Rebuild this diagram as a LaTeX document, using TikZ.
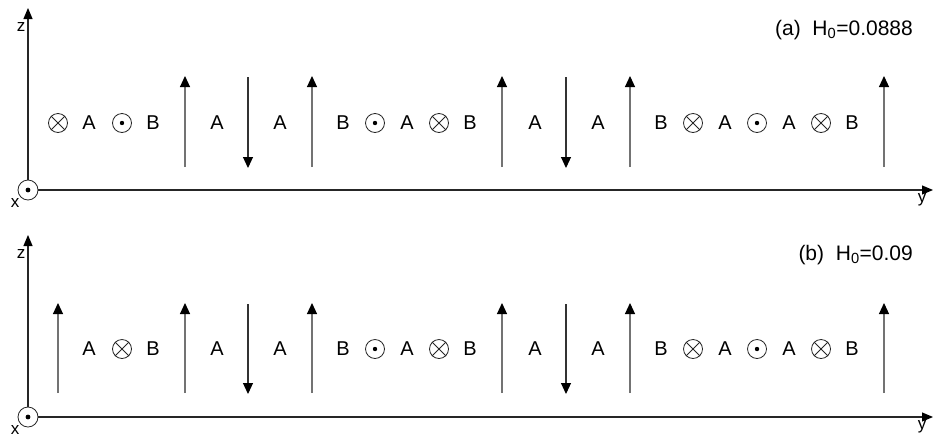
\documentclass[tikz,border=0pt]{standalone}
\usepackage{fontspec}
\setmainfont{Liberation Sans}
\usetikzlibrary{arrows.meta}
\tikzset{
  axisline/.style={draw=black!85, line width=1.1pt, -{Triangle[length=11pt,width=9pt,color=black]}},
  uparrow/.style={draw=black!55, line width=1.1pt, -{Triangle[length=11pt,width=10pt,color=black]}},
  downarrow/.style={draw=black!80, line width=1.1pt, -{Triangle[length=11pt,width=10pt,color=black]}},
  lbl/.style={font=\fontsize{20}{20}\selectfont, inner sep=0pt},
  axlbl/.style={font=\fontsize{17}{17}\selectfont, inner sep=0pt},
  ttl/.style={font=\fontsize{21}{21}\selectfont, inner sep=0pt, anchor=east},
  sym/.style={circle, draw=black!85, line width=0.8pt, minimum size=19pt, inner sep=0pt},
}
\newcommand{\intopage}[2]{% name, position
  \node[sym] (#1) at (#2) {};
  \draw[black!85, line width=0.8pt] (#1.45) -- (#1.225) (#1.135) -- (#1.315);}
\newcommand{\outofpage}[2]{%
  \node[sym] (#1) at (#2) {};
  \fill[black] (#1.center) circle (2.2pt);}
\begin{document}
\begin{tikzpicture}[x=1pt,y=-1pt]
\useasboundingbox (0,0) rectangle (933,437);
% ---------------- panel (a)
\coordinate (a0) at (28,190);
\coordinate (az) at (28,8);
\coordinate (ay) at (933,190);
\draw[axisline] (a0) -- (az);
\draw[axisline] (a0) -- (ay);
\node[sym, minimum size=20pt, fill=white] (aorig) at (a0) {};
\fill (aorig.center) circle (2.4pt);
\node[axlbl] (alx) at (15,203) {x};
\node[axlbl] (alz) at (21,27) {z};
\node[axlbl] (aly) at (922,200) {y};
\node[ttl] (atitle) at (913,30) {(a)\ \ H\textsubscript{0}=0.0888};
\intopage{ac1}{58,123}
\outofpage{ac2}{122,123}
\outofpage{ac3}{375,123}
\intopage{ac4}{439,123}
\intopage{ac5}{693,123}
\outofpage{ac6}{757,123}
\intopage{ac7}{821,123}
\foreach \x/\t [count=\i] in {89/A,153/B,217/A,280/A,343/B,407/A,470/B,535/A,598/A,661/B,725/A,789/A,852/B}
  \node[lbl] (at\i) at (\x,123) {\t};
\foreach \x [count=\i] in {185,312,502,630,884}{
  \coordinate (aub\i) at (\x,167); \coordinate (aut\i) at (\x,76);
  \draw[uparrow] (aub\i) -- (aut\i);}
\foreach \x [count=\i] in {248,566}{
  \coordinate (adb\i) at (\x,77); \coordinate (adt\i) at (\x,168);
  \draw[downarrow] (adb\i) -- (adt\i);}
% ---------------- panel (b)
\coordinate (b0) at (28,417);
\coordinate (bz) at (28,235);
\coordinate (by) at (933,417);
\draw[axisline] (b0) -- (bz);
\draw[axisline] (b0) -- (by);
\node[sym, minimum size=20pt, fill=white] (borig) at (b0) {};
\fill (borig.center) circle (2.4pt);
\node[axlbl] (blx) at (15,430) {x};
\node[axlbl] (blz) at (21,254) {z};
\node[axlbl] (bly) at (922,427) {y};
\node[ttl] (btitle) at (913,255) {(b)\ \ H\textsubscript{0}=0.09};
\intopage{bc1}{122,349}
\outofpage{bc2}{375,349}
\intopage{bc3}{439,349}
\intopage{bc4}{693,349}
\outofpage{bc5}{757,349}
\intopage{bc6}{821,349}
\foreach \x/\t [count=\i] in {89/A,153/B,217/A,280/A,343/B,407/A,470/B,535/A,598/A,661/B,725/A,789/A,852/B}
  \node[lbl] (bt\i) at (\x,349) {\t};
\foreach \x [count=\i] in {58,185,312,502,630,884}{
  \coordinate (bub\i) at (\x,393); \coordinate (but\i) at (\x,303);
  \draw[uparrow] (bub\i) -- (but\i);}
\foreach \x [count=\i] in {248,566}{
  \coordinate (bdb\i) at (\x,304); \coordinate (bdt\i) at (\x,394);
  \draw[downarrow] (bdb\i) -- (bdt\i);}
\end{tikzpicture}
\end{document}
